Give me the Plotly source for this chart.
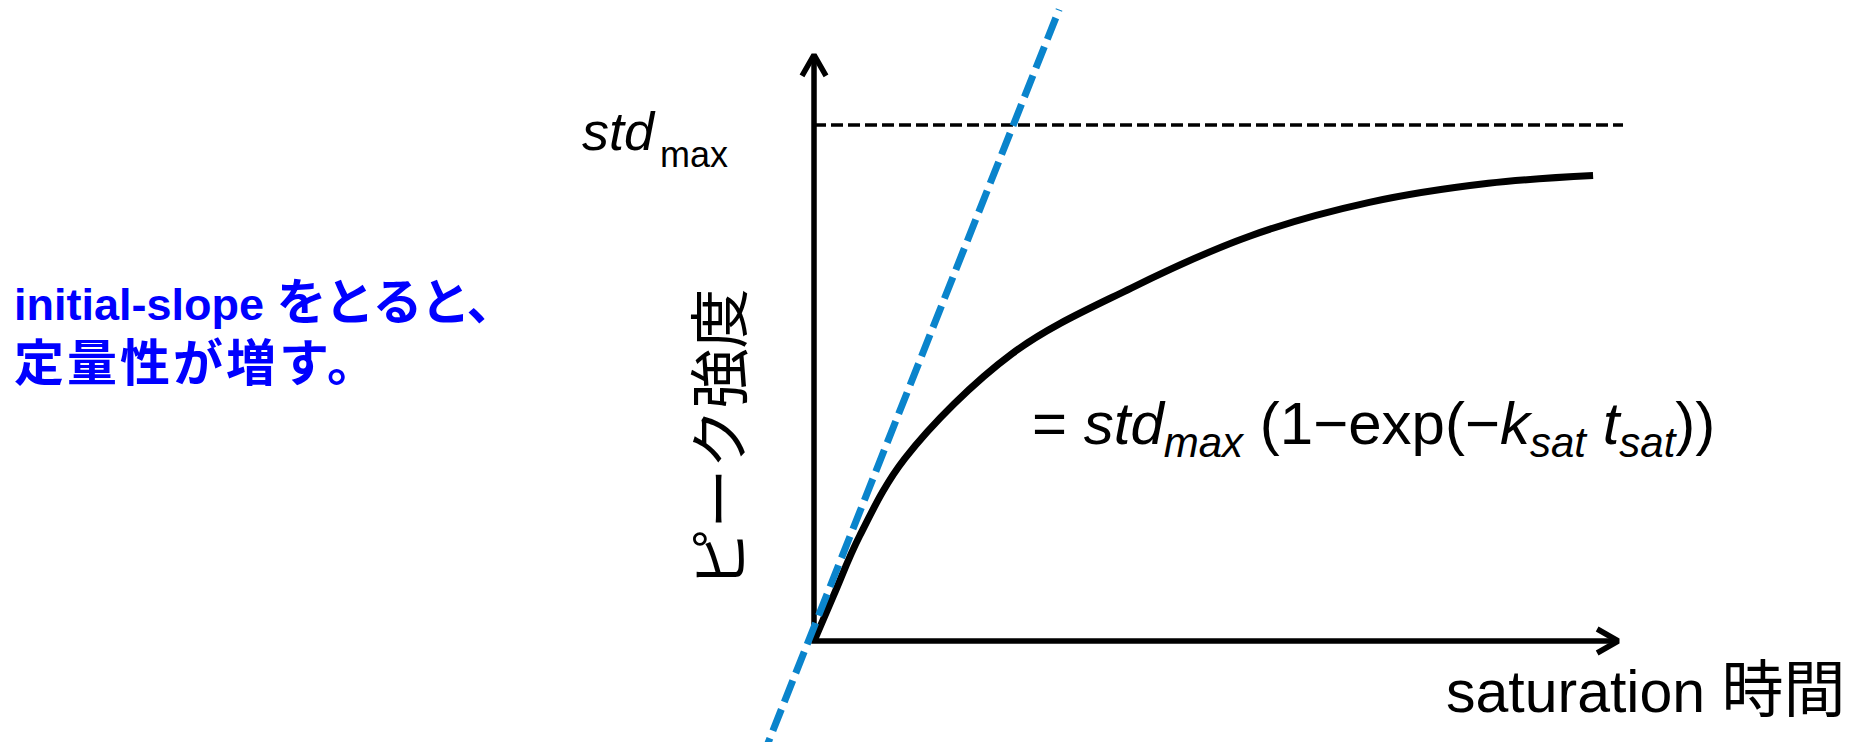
import plotly.graph_objects as go

# Saturation curve: peak intensity vs saturation time (std_max normalised to 1)
T_SAT = [0.0, 0.241, 0.565, 1.124, 2.449, 3.921, 5.392, 6.864, 8.336, 9.63]
PEAK = [0.0, 0.088, 0.204, 0.354, 0.557, 0.684, 0.785, 0.850, 0.887, 0.902]

STD_MAX = 1.0
STD_MAX_LINE_T = [0.0, 10.0]

# Initial-slope tangent
INITIAL_SLOPE = 0.395
TANGENT_INTERCEPT = 0.027
TANGENT_T = [-0.65, 3.03]

# Axis extents (arrow tips)
X_AXIS_END = 9.94
Y_AXIS_END = 1.136

# Axis ranges and pixel scale of the 1867x742 canvas
X_RANGE = [-10.062, 13.016]
Y_RANGE = [-0.1957, 1.2422]
PX_PER_T = 1867 / (X_RANGE[1] - X_RANGE[0])
PX_PER_I = 742 / (Y_RANGE[1] - Y_RANGE[0])

# Chevron arrowhead size in pixels
HEAD_HALF_W = 12
HEAD_DEPTH = 21

FONT = "Liberation Sans, Noto Sans CJK JP, sans-serif"
AXIS_W = 5.5

fig = go.Figure()

# axes
fig.add_trace(go.Scatter(
    x=[0, 0, X_AXIS_END], y=[Y_AXIS_END, 0, 0], mode="lines",
    line=dict(color="black", width=AXIS_W), hoverinfo="skip"))

# arrowheads
hw_t, d_i = HEAD_HALF_W / PX_PER_T, HEAD_DEPTH / PX_PER_I
fig.add_trace(go.Scatter(
    x=[-hw_t, 0, hw_t], y=[Y_AXIS_END - d_i, Y_AXIS_END, Y_AXIS_END - d_i],
    mode="lines", line=dict(color="black", width=AXIS_W), hoverinfo="skip"))
d_t, hw_i = HEAD_DEPTH / PX_PER_T, HEAD_HALF_W / PX_PER_I
fig.add_trace(go.Scatter(
    x=[X_AXIS_END - d_t, X_AXIS_END, X_AXIS_END - d_t], y=[hw_i, 0, -hw_i],
    mode="lines", line=dict(color="black", width=AXIS_W), hoverinfo="skip"))

# std_max reference line
fig.add_trace(go.Scatter(
    x=STD_MAX_LINE_T, y=[STD_MAX] * len(STD_MAX_LINE_T), mode="lines",
    line=dict(color="black", width=3.5, dash="12px,5px"), hoverinfo="skip"))

# saturation curve
fig.add_trace(go.Scatter(
    x=T_SAT, y=PEAK, mode="lines",
    line=dict(color="black", width=7, shape="spline", smoothing=1.0),
    hoverinfo="skip"))

# initial-slope tangent
fig.add_trace(go.Scatter(
    x=TANGENT_T, y=[TANGENT_INTERCEPT + INITIAL_SLOPE * t for t in TANGENT_T],
    mode="lines", line=dict(color="#0A84CC", width=7, dash="23px,8px"),
    hoverinfo="skip"))

annotations = [
    # std_max label
    dict(x=-1.932, y=0.988, xref="x", yref="y", xanchor="right", yanchor="middle",
         text="<i>std</i>", showarrow=False,
         font=dict(family=FONT, size=54, color="black")),
    dict(x=-1.932, y=0.943, xref="x", yref="y", xanchor="left", yanchor="middle",
         text="max", showarrow=False,
         font=dict(family=FONT, size=36, color="black")),
    # model equation
    dict(x=2.67, y=0.413, xref="x", yref="y", xanchor="left", yanchor="middle",
         text="= <i>std</i><sub><i>max</i></sub> (1−exp(−<i>k</i><sub><i>sat</i></sub>"
              " <i>t</i><sub><i>sat</i></sub>))",
         showarrow=False, font=dict(family=FONT, size=60, color="black")),
    # axis titles
    dict(x=12.78, y=-0.095, xref="x", yref="y", xanchor="right", yanchor="middle",
         text="<span style='font-size:59px'>saturation </span>"
              "<span style='font-size:62px'>時間</span>",
         showarrow=False, font=dict(family=FONT, size=60, color="black")),
    dict(x=-1.14, y=0.392, xref="x", yref="y", xanchor="center", yanchor="middle",
         text="ピーク強度", textangle=-90, showarrow=False,
         font=dict(family=FONT, size=60, color="black")),
    # note
    dict(x=-9.91, y=0.595, xref="x", yref="y", xanchor="left", yanchor="middle",
         align="left",
         text="<b><span style='font-size:45px'>initial-slope </span>"
              "<span style='font-size:50px;letter-spacing:-2px'>をとると、</span><br>"
              "<span style='font-size:50px;letter-spacing:3px'>定量性が増す。</span></b>",
         showarrow=False, font=dict(family=FONT, size=47, color="#0000FF")),
]

fig.update_layout(
    width=1867, height=742,
    margin=dict(l=0, r=0, t=0, b=0),
    paper_bgcolor="white", plot_bgcolor="white",
    showlegend=False,
    xaxis=dict(range=X_RANGE, visible=False, fixedrange=True),
    yaxis=dict(range=Y_RANGE, visible=False, fixedrange=True),
    annotations=annotations,
)

fig.write_html("out.html")
